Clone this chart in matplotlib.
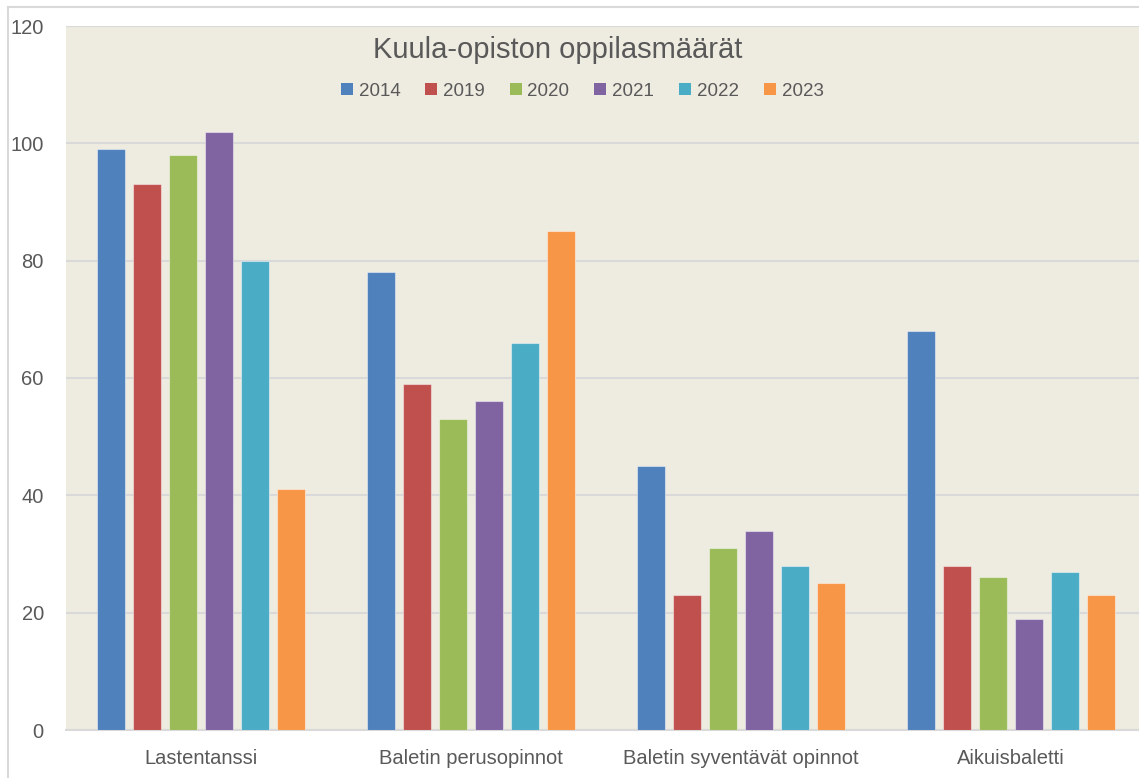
import matplotlib.pyplot as plt
import numpy as np
from matplotlib.lines import Line2D
from matplotlib.patches import Patch

plt.rcParams["font.family"] = ["Liberation Sans", "DejaVu Sans"]

categories = ["Lastentanssi", "Baletin perusopinnot", "Baletin syventävät opinnot", "Aikuisbaletti"]
years = ["2014", "2019", "2020", "2021", "2022", "2023"]
v2014 = [99, 78, 45, 68]
v2019 = [93, 59, 23, 28]
v2020 = [98, 53, 31, 26]
v2021 = [102, 56, 34, 19]
v2022 = [80, 66, 28, 27]
v2023 = [41, 85, 25, 23]
series = [v2014, v2019, v2020, v2021, v2022, v2023]
colors = ["#4F81BD", "#C0504D", "#9BBB59", "#8064A2", "#4BACC6", "#F79646"]

W, H = 1139, 778
fig = plt.figure(figsize=(W / 100, H / 100), dpi=100)
fig.patch.set_facecolor("white")

ax = fig.add_axes([66 / W, 1 - 730 / H, 1080 / W, 704 / H])
ax.set_facecolor("#EEEBE0")

x = np.arange(len(categories))
step = 36 / 270
width = 28 / 270
for i, (vals, c) in enumerate(zip(series, colors)):
    ax.bar(x + (i - 2.5) * step, vals, width, color=c,
           edgecolor=(1, 1, 1, 0.45), linewidth=0.8, zorder=3)

ax.set_xlim(-0.5, 3.5)
ax.set_ylim(0, 120)
ax.set_yticks(range(0, 121, 20))
ax.set_xticks(x)
ax.set_xticklabels(categories)
ax.grid(axis="y", color="#D9D9D9", linewidth=1.5, zorder=1)
ax.tick_params(length=0, labelsize=14.5, colors="#595959")
ax.tick_params(axis="x", pad=14)
ax.tick_params(axis="y", pad=16)
for s in ["left", "right", "top"]:
    ax.spines[s].set_visible(False)
ax.spines["bottom"].set_color("#D9D9D9")
ax.spines["bottom"].set_linewidth(1.5)

# outer chart border
fig.add_artist(Line2D([8 / W, 8 / W], [0, 1 - 7 / H], color="#D9D9D9", lw=1.5))
fig.add_artist(Line2D([8 / W, 1], [1 - 7 / H, 1 - 7 / H], color="#D9D9D9", lw=1.5))

fig.text(558 / W, 1 - 50 / H, "Kuula-opiston oppilasmäärät", ha="center", va="center",
         fontsize=21, color="#595959")

handles = [Patch(facecolor=c, edgecolor="none") for c in colors]
fig.legend(handles, years, loc="center", bbox_to_anchor=(582 / W, 1 - 91 / H), ncol=6,
           frameon=False, fontsize=13.5, labelcolor="#595959", handlelength=0.64,
           handleheight=0.64, handletextpad=0.32, columnspacing=1.32)

fig.savefig("out.png", dpi=100)
